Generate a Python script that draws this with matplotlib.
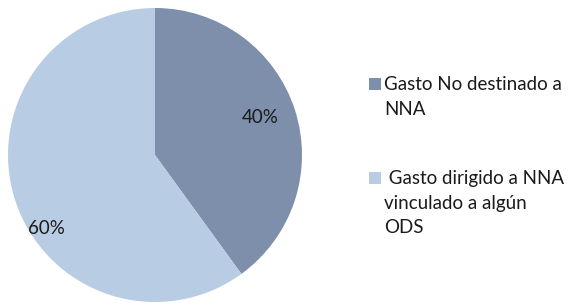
import matplotlib.pyplot as plt
from matplotlib.patches import Rectangle

categories = ["Gasto No destinado a\nNNA", " Gasto dirigido a NNA\nvinculado a algún\nODS"]
values = [40, 60]
colors = ["#7d8fab", "#b8cce4"]

W, H = 571, 304
fig = plt.figure(figsize=(W / 100, H / 100), dpi=100)
plt.rcParams['font.family'] = ['Lato', 'DejaVu Sans']

# pie centred at (155, 155) px, radius 147 px
cx, cy, r = 155, 155, 147
ax = fig.add_axes([(cx - r) / W, (H - cy - r) / H, 2 * r / W, 2 * r / H])
wedges, _, autotexts = ax.pie(values, colors=colors, startangle=90, counterclock=False,
                              autopct='%1.0f%%', radius=1,
                              textprops=dict(fontsize=13.5, color="#1a1a1a"))
ax.set_xlim(-1, 1)
ax.set_ylim(-1, 1)

# label positions as in the original
autotexts[0].set_position((0.714, 0.252))
autotexts[1].set_position((-0.741, -0.503))

# legend drawn by hand: square next to the first line of each label
entries = [(78, 90.5), (172, 184)]
for w, lab, (sq_top, base) in zip(wedges, categories, entries):
    fig.patches.append(Rectangle((369 / W, (H - sq_top - 12) / H), 12 / W, 12 / H,
                                 transform=fig.transFigure, facecolor=w.get_facecolor(),
                                 edgecolor='none'))
    for i, line in enumerate(lab.split("\n")):
        fig.text(384 / W, (H - base - 24.5 * i) / H, line, fontsize=13.5, color="#1a1a1a",
                 va='baseline', ha='left')

fig.savefig("out.png", dpi=100)
